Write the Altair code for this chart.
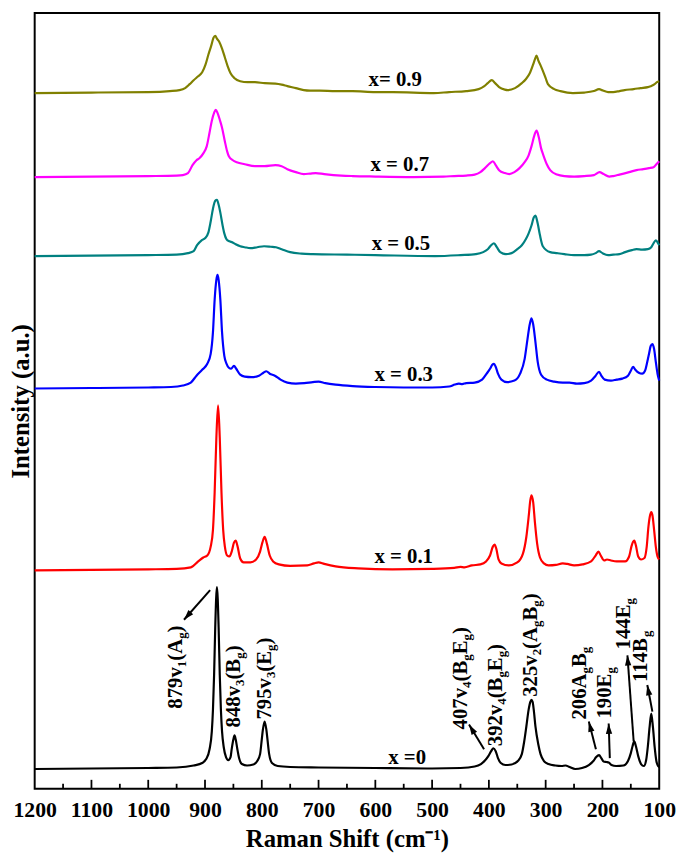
import math
import altair as alt
import pandas as pd

FONT = "Liberation Serif"

series_names = ["x=0", "x=0.1", "x=0.3", "x=0.5", "x=0.7", "x=0.9"]
series_colors = ["#000000", "#ff0000", "#0000ff", "#008080", "#ff00ff", "#808000"]

# ---- spectra (Raman shift in cm-1, intensity in arbitrary offset units) ----
x0_shift = [1200, 1100, 1000, 950, 920, 905, 898, 892, 888, 886, 884, 882, 879, 876, 874,
            872, 870, 867, 863, 859, 855, 853, 850, 848, 846, 843, 840, 835, 826, 815,
            808, 803, 800, 798, 795, 792, 790, 787, 782, 772, 750, 700, 600, 500, 450,
            425, 414, 407, 401, 396, 392, 388, 384, 379, 371, 360, 349, 342, 338, 334,
            330, 327, 325, 323, 321, 318, 313, 309, 303, 295, 283, 272, 265, 258, 248,
            236, 224, 216, 211, 206, 202, 198, 193, 189, 184, 176, 163, 155, 150, 147,
            144, 141, 137, 132, 127, 123, 120, 117, 114, 111, 108, 105, 102, 100]
x0_int = [20, 20.5, 21, 21.5, 23.5, 26, 30, 40, 58, 80, 115, 163, 204, 163, 115,
          80, 58, 42, 32, 29, 32, 40, 50, 54, 50, 40, 31, 25, 23.5, 24.5,
          28, 35, 50, 60, 68, 60, 50, 35, 26, 23, 22, 21.5, 21, 20.5, 21,
          22.5, 25, 28.5, 33, 38, 41, 38, 31, 26, 24, 24.5, 28, 35, 47, 63,
          80, 88, 90, 88, 80, 63, 45, 35, 28, 25, 23.5, 23, 23.5, 22, 20,
          21, 24, 28, 32, 34, 31, 27.5, 27, 26.5, 24, 23, 23.5, 28, 36, 43,
          48, 43, 33, 25, 23, 29, 43, 62, 76, 62, 42, 28, 23, 22]

x01_shift = [1200, 1100, 1000, 950, 925, 912, 903, 896, 890, 886, 883, 880, 877, 874, 871,
             868, 865, 861, 857, 853, 849, 846, 843, 838, 832, 820, 810, 803, 799, 795,
             791, 786, 780, 770, 750, 720, 708, 700, 690, 670, 630, 570, 500, 461, 450,
             443, 430, 415, 405, 398, 393, 390, 387, 383, 378, 365, 350, 340, 334, 330,
             327, 325, 322, 319, 315, 310, 303, 295, 282, 270, 262, 250, 235, 220, 212,
             207, 203, 197, 192, 185, 175, 160, 153, 149, 146, 144, 141, 137, 132, 126,
             122, 119, 116, 114, 112, 109, 106, 103, 100]
x01_int = [221, 221.5, 222, 222.5, 224, 230, 234, 236, 245, 262, 300, 355, 388, 355, 300,
           262, 245, 236, 235, 240, 249, 251, 246, 233, 229, 229, 232, 240, 249, 255,
           248, 236, 230, 227, 225.5, 226, 228, 229, 227.5, 225, 223, 222, 222.5, 223.5, 224.5,
           224, 226, 227, 230, 236, 245, 247, 243, 232, 228, 226, 229, 238, 255, 275,
           292, 297, 290, 270, 248, 234, 228, 226, 226.5, 228, 227.5, 226, 227, 230, 236,
           240, 236, 231, 232, 231, 230, 230, 235, 245, 250, 251, 246, 235, 232, 233.5,
           245, 265, 277, 280, 277, 262, 245, 235, 232]

x03_shift = [1200, 1100, 1000, 960, 939, 925, 915, 905, 896, 890, 886, 883, 880, 878, 876,
             873, 870, 866, 862, 858, 854, 849, 845, 838, 830, 818, 805, 797, 792, 786,
             777, 767, 755, 740, 725, 710, 700, 688, 670, 640, 600, 550, 500, 470, 460,
             453, 447, 440, 425, 412, 404, 398, 394, 391, 388, 384, 378, 368, 355, 345,
             337, 332, 328, 325, 322, 318, 314, 308, 298, 285, 270, 258, 245, 232, 220,
             212, 206, 202, 196, 185, 175, 165, 155, 150, 146, 142, 136, 130, 125, 121,
             118, 115, 112, 109, 106, 103, 100]
x03_int = [405, 405.5, 406, 406.5, 408, 411, 418, 424, 430, 440, 462, 495, 515, 520, 515,
           495, 462, 438, 430, 426, 425, 428, 425, 419, 417, 416.5, 418, 421, 422.5, 420,
           418, 414, 411, 410, 410.5, 411.5, 412, 410.5, 409, 407.5, 406.5, 406, 406, 407, 409,
           410, 409.5, 410.5, 411, 414, 420, 425, 429, 430, 427, 420, 414, 411.5, 413, 420,
           435, 455, 470, 476, 470, 452, 432, 419, 414, 412, 411, 411, 410, 410.5, 413,
           418, 422, 418, 414, 413, 414, 415, 418, 423, 427, 424, 421, 420, 423, 432,
           440, 448, 450, 445, 432, 420, 413]

x05_shift = [1200, 1100, 1000, 950, 930, 920, 914, 906, 900, 894, 890, 886, 882, 879, 876,
             873, 869, 866, 862, 857, 852, 846, 838, 830, 820, 808, 796, 784, 775, 765,
             750, 730, 710, 650, 600, 495, 450, 423, 410, 402, 396, 391, 386, 380, 370,
             360, 350, 342, 335, 330, 325, 321, 318, 314, 310, 305, 292, 280, 267, 250,
             232, 220, 212, 206, 200, 190, 181, 170, 160, 148, 140, 130, 120, 114, 110,
             106, 103, 100]
x05_int = [539, 539.5, 540, 540.5, 542, 544, 550, 555, 557, 563, 574, 587, 595, 596, 591,
           583, 570, 562, 556, 554, 553, 551, 549, 548, 547, 548, 549, 548.5, 548, 546,
           543, 541.5, 541, 540.5, 540, 539, 540, 541, 543, 546, 550, 552, 548, 543, 541,
           542, 546, 550, 556, 562, 570, 578, 580, 572, 560, 549, 543, 542, 541, 540,
           540, 540.5, 542, 544, 542, 540, 540.5, 541, 543, 545, 546, 545.5, 546, 548, 552,
           555, 553, 550]

x07_shift = [1200, 1100, 1000, 950, 939, 930, 922, 915, 910, 903, 897, 892, 888, 884, 881,
             878, 874, 870, 865, 861, 858, 851, 844, 830, 812, 795, 776, 765, 755, 740,
             726, 715, 705, 690, 660, 640, 600, 533, 480, 461, 440, 425, 415, 407, 398,
             393, 388, 382, 372, 364, 355, 346, 337, 330, 325, 320, 316, 312, 308, 304,
             298, 292, 280, 267, 250, 232, 215, 205, 198, 188, 181, 170, 153, 140, 128,
             118, 110, 105, 100]
x07_int = [619, 619.5, 620, 620.5, 621, 623, 631, 636, 638, 643, 650, 664, 676, 684, 687,
           684, 677, 669, 655, 645, 640, 636, 634, 632, 630, 630, 631, 630, 627, 624,
           622, 622.5, 623, 622, 620.5, 620, 619.5, 619, 619.5, 620, 620.5, 621.5, 624, 628, 633,
           635, 631, 626, 623, 622, 624, 628, 634, 641, 650, 661, 666, 659, 648, 641,
           632, 626, 621.5, 620, 619.5, 620, 621, 624, 622, 619.5, 620, 621.5, 624, 626, 627,
           628, 629, 632, 635]

x09_shift = [1200, 1100, 1000, 962, 945, 935, 927, 920, 912, 905, 899, 894, 889, 885, 882,
             879, 875, 870, 865, 860, 855, 848, 838, 825, 812, 795, 776, 765, 755, 740,
             726, 715, 698, 670, 640, 600, 569, 497, 470, 440, 418, 408, 402, 395, 389,
             382, 372, 367, 354, 342, 335, 328, 322, 319, 316, 313, 309, 306, 300, 296,
             285, 274, 252, 232, 215, 206, 199, 190, 181, 170, 161, 145, 133, 120, 115,
             108, 104, 100]
x09_int = [704, 704.5, 705, 706, 707, 709, 713, 717, 721, 725, 733, 743, 752, 760, 762,
           759, 756, 749, 740, 731, 724, 719, 716, 715, 715, 714, 713.5, 712.5, 711, 709,
           707, 706.5, 706.5, 706, 706, 705, 705, 704, 705, 706, 708, 711, 714, 717, 714,
           710, 707.5, 707, 709, 714, 718, 724, 733, 738, 742, 737, 732, 728, 719, 713,
           708, 706, 704, 704.5, 706, 708, 706.5, 705, 705, 706, 707, 708, 709, 710, 711,
           713, 715, 716]

# ---- curve labels ----
curve_label_text = ["x =0", "x = 0.1", "x = 0.3", "x = 0.5", "x = 0.7", "x= 0.9"]
curve_label_shift = [544, 550, 550, 555, 557, 565]
curve_label_int = [25, 228, 413, 545, 625, 711]

# ---- peak assignment labels (rotated), segments: (text, is_subscript) ----
peak_label_shift = [940, 839, 783, 438, 377, 316, 229, 185, 152, 121]
peak_label_int = [81, 62, 70, 60, 43, 93, 70, 71, 141, 108]
peak_label_parts = [
    [("879v", 0), ("1", 1), ("(A", 0), ("g", 1), (")", 0)],
    [("848v", 0), ("3", 1), ("(B", 0), ("g", 1), (")", 0)],
    [("795v", 0), ("3", 1), ("(E", 0), ("g", 1), (")", 0)],
    [("407v", 0), ("4", 1), ("(B", 0), ("g", 1), ("E", 0), ("g", 1), (")", 0)],
    [("392v", 0), ("4", 1), ("(B", 0), ("g", 1), ("E", 0), ("g", 1), (")", 0)],
    [("325v", 0), ("2", 1), ("(A", 0), ("g", 1), ("B", 0), ("g", 1), (")", 0)],
    [("206A", 0), ("g", 1), ("B", 0), ("g", 1)],
    [("190E", 0), ("g", 1)],
    [("144E", 0), ("g", 1)],
    [("114B", 0), ("g", 1)],
]

# ---- arrows ----
arrow_tail_shift = [891, 408.5, 211.5, 187, 145, 112]
arrow_tail_int = [201, 40, 40, 31, 48, 78]
arrow_head_shift = [937, 435, 224, 189, 156, 121]
arrow_head_int = [171, 65, 68, 66, 135, 105]

major_tick_values = list(range(200, 1200, 100))
minor_tick_values = list(range(150, 1200, 100))
axis_values = list(range(100, 1300, 100))

# ---------------------------------------------------------------------------
W_PLOT, H_PLOT = 632, 785
X_DOM = [100, 1200]
Y_DOM = [0, 785]

spectra = [
    ("x=0", x0_shift, x0_int),
    ("x=0.1", x01_shift, x01_int),
    ("x=0.3", x03_shift, x03_int),
    ("x=0.5", x05_shift, x05_int),
    ("x=0.7", x07_shift, x07_int),
    ("x=0.9", x09_shift, x09_int),
]
rows = []
for name, sh, it in spectra:
    for s, v in zip(sh, it, strict=True):
        rows.append({"shift": s, "intensity": v, "series": name})
df = pd.DataFrame(rows)

MAIN_FS, SUB_FS = 21, 13
char_w = {"0": .5, "1": .5, "2": .5, "3": .5, "4": .5, "5": .5, "6": .5, "7": .5,
          "8": .5, "9": .5, "v": .5, "(": .333, ")": .333, "A": .722, "B": .667,
          "E": .667, "g": .5}
seg_rows = []
for s, v, parts in zip(peak_label_shift, peak_label_int, peak_label_parts, strict=True):
    off = 0.0
    for txt, sub in parts:
        fs = SUB_FS if sub else MAIN_FS
        seg_rows.append({"shift": s, "intensity": v, "txt": txt, "fs": fs,
                         "dx": round(off, 1), "dy": 4 if sub else 0})
        off += sum(char_w[c] for c in txt) * fs
seg_df = pd.DataFrame(seg_rows)

sx = W_PLOT / (X_DOM[1] - X_DOM[0])
sy = H_PLOT / (Y_DOM[1] - Y_DOM[0])
line_rows, head_rows = [], []
for ts, ti, hs, hi in zip(arrow_tail_shift, arrow_tail_int, arrow_head_shift, arrow_head_int, strict=True):
    dxp = -(hs - ts) * sx
    dyp = -(hi - ti) * sy
    ang = math.degrees(math.atan2(dxp, -dyp)) % 360
    line_rows.append({"shift": ts, "intensity": ti, "shift2": hs, "intensity2": hi})
    head_rows.append({"shift": hs, "intensity": hi, "ang": ang})
arrow_df = pd.DataFrame(line_rows)
head_df = pd.DataFrame(head_rows)

curve_df = pd.DataFrame({"shift": curve_label_shift, "intensity": curve_label_int,
                         "txt": curve_label_text})
major_df = pd.DataFrame({"shift": major_tick_values})
minor_df = pd.DataFrame({"shift": minor_tick_values})

xscale = alt.Scale(domain=X_DOM, reverse=True, nice=False, zero=False)
yscale = alt.Scale(domain=Y_DOM, nice=False, zero=False)

x_axis = alt.Axis(values=axis_values, title="Raman Shift (cm⁻¹)", grid=False,
                  ticks=False, tickSize=0, domain=False, labelFlush=False,
                  labelOverlap=False, labelBound=False,
                  labelFont=FONT, labelFontSize=22, labelFontWeight="bold",
                  labelColor="black", labelPadding=11,
                  titleFont=FONT, titleFontSize=25, titleFontWeight="bold",
                  titleColor="black", titlePadding=6, format="d")
y_axis = alt.Axis(title="Intensity (a.u.)", labels=False, ticks=False, tickSize=0,
                  domain=False, grid=False, titleFont=FONT, titleFontSize=25,
                  titleFontWeight="bold", titleColor="black",
                  titleAngle=270, titleBaseline="middle", titleAlign="center",
                  titleX=-14, titleY=H_PLOT / 2)

X = alt.X("shift:Q", scale=xscale, axis=x_axis, title="Raman Shift (cm⁻¹)")
Y = alt.Y("intensity:Q", scale=yscale, axis=y_axis, title="Intensity (a.u.)")

lines = alt.Chart(df).mark_line(strokeWidth=2.2, interpolate="monotone").encode(
    x=X, y=Y,
    color=alt.Color("series:N", scale=alt.Scale(domain=series_names, range=series_colors),
                    legend=None),
)

major_ticks = alt.Chart(major_df).mark_rule(color="black", strokeWidth=1.8).encode(
    x=X, y=alt.value(H_PLOT), y2=alt.value(H_PLOT - 9),
)
minor_ticks = alt.Chart(minor_df).mark_rule(color="black", strokeWidth=1.8).encode(
    x=X, y=alt.value(H_PLOT), y2=alt.value(H_PLOT - 5),
)

curve_labels = alt.Chart(curve_df).mark_text(
    font=FONT, fontSize=21, fontWeight="bold", color="black",
    align="center", baseline="alphabetic").encode(
    x=X, y=Y, text="txt:N",
)

peak_text = alt.Chart(seg_df).mark_text(
    font=FONT, fontWeight="bold", color="black", angle=270,
    align="left", baseline="alphabetic",
    dx=alt.expr("datum.dx"), dy=alt.expr("datum.dy")).encode(
    x=X, y=Y, text="txt:N",
    size=alt.Size("fs:Q", scale=None, legend=None),
)

arrow_lines = alt.Chart(arrow_df).mark_rule(color="black", strokeWidth=2).encode(
    x=X, y=Y, x2="shift2:Q", y2="intensity2:Q",
)

arrow_heads = alt.Chart(head_df).mark_point(
    shape="M0,0L-0.8,2.6L0.8,2.6Z", filled=True, color="black", opacity=1,
    size=64, strokeWidth=0).encode(
    x=X, y=Y, angle=alt.Angle("ang:Q", scale=None),
)

chart = alt.layer(lines, major_ticks, minor_ticks, curve_labels, peak_text,
                  arrow_lines, arrow_heads).properties(
    width=W_PLOT, height=H_PLOT,
    autosize=alt.AutoSizeParams(type="none"),
    padding={"left": 27, "top": 0, "right": 18, "bottom": 63},
    background="white",
).configure_view(stroke="black", strokeWidth=2).configure_axis(grid=False)

chart.save("out.html", embed_options={"renderer": "svg", "actions": False})
